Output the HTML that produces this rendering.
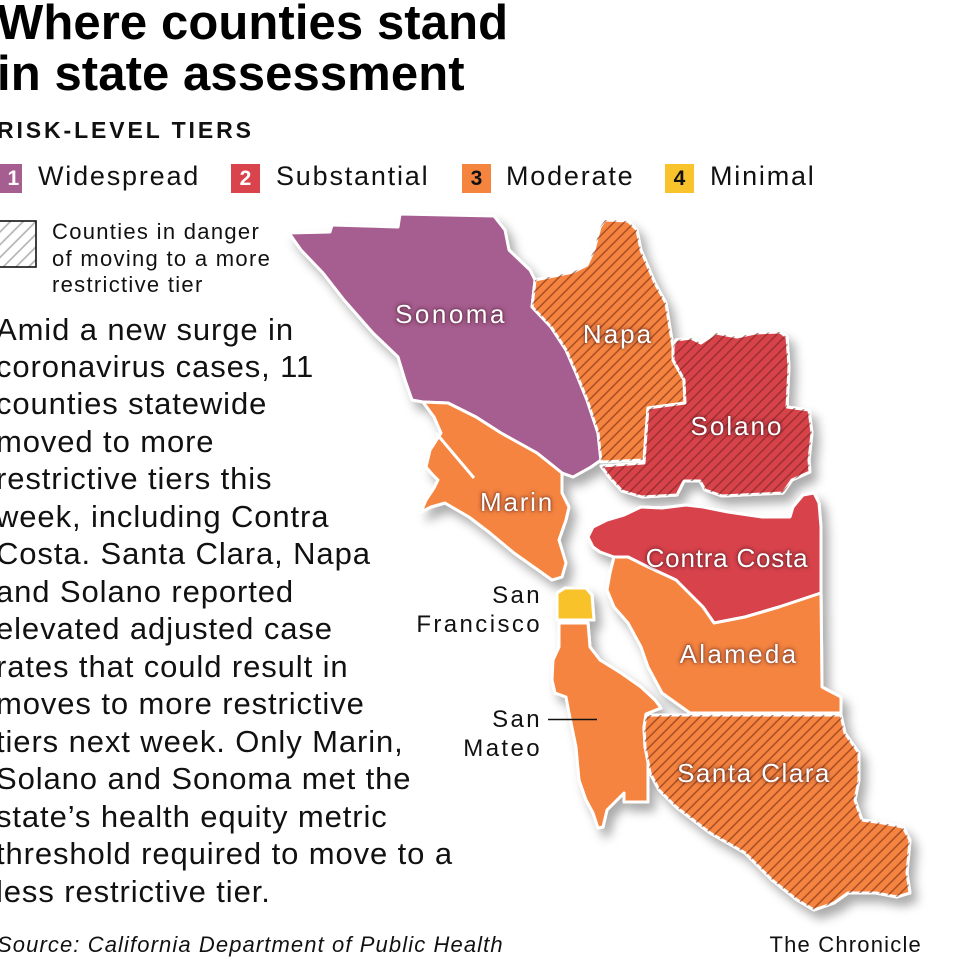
<!DOCTYPE html>
<html><head><meta charset="utf-8">
<style>
html,body{margin:0;padding:0;background:#fff;}
body{width:960px;height:960px;position:relative;overflow:hidden;font-family:"Liberation Sans",Arial,sans-serif;color:#111;}
.a{position:absolute;white-space:nowrap;line-height:1;}
.t{font-weight:bold;font-size:49px;letter-spacing:0.1px;color:#000;}
.sq{position:absolute;width:29px;height:29px;top:164px;font-weight:bold;font-size:21px;line-height:29px;text-align:center;}
.lg{font-size:27px;letter-spacing:1.8px;top:163px;}
.ml{font-size:26px;color:#fff;text-shadow:0 0 5px rgba(60,20,30,0.75),0 0 2px rgba(60,20,30,0.5);transform:translateX(-50%);}
.bl{font-size:24px;letter-spacing:2.4px;text-align:right;}
</style></head><body>

<div class="a t" style="left:-3px;top:-1.5px;">Where counties stand</div>
<div class="a t" style="left:-3px;top:49.5px;">in state assessment</div>
<div class="a" style="left:-3px;top:118.5px;font-weight:bold;font-size:23px;letter-spacing:2.9px;">RISK-LEVEL TIERS</div>

<div class="sq" style="left:-7px;background:#a65d8f;color:#fff;">&nbsp;&nbsp;1</div>
<div class="a lg" style="left:38px;">Widespread</div>
<div class="sq" style="left:231px;background:#d8434c;color:#fff;">2</div>
<div class="a lg" style="left:276px;">Substantial</div>
<div class="sq" style="left:462px;background:#f5843f;color:#111;">3</div>
<div class="a lg" style="left:506px;">Moderate</div>
<div class="sq" style="left:665px;background:#f8c32b;color:#111;">4</div>
<div class="a lg" style="left:710px;">Minimal</div>

<svg style="position:absolute;left:0;top:0" width="960" height="960" viewBox="0 0 960 960">
<defs>
<pattern id="lh" patternUnits="userSpaceOnUse" width="9" height="9" patternTransform="rotate(45)">
<line x1="2" y1="0" x2="2" y2="9" stroke="#b0b0b0" stroke-width="1.6"/>
</pattern>
<pattern id="hh" patternUnits="userSpaceOnUse" width="7.2" height="10" patternTransform="rotate(45)">
<line x1="1" y1="0" x2="1" y2="10" stroke="rgba(100,30,15,0.58)" stroke-width="1.4"/>
</pattern>
<filter id="sh" x="-10%" y="-10%" width="130%" height="130%">
<feDropShadow dx="6" dy="8" stdDeviation="5" flood-color="#000" flood-opacity="0.33"/>
</filter>
</defs>

<rect x="-12" y="221" width="48" height="46" fill="url(#lh)" stroke="#111" stroke-width="1.6"/>

<g filter="url(#sh)" stroke="#fff" stroke-width="3" stroke-linejoin="round">
<polygon fill="#a65d8f" points="289,233 330,232 332,225 398,227 400,214 494,216 505,230 509,250 530,270 535,280 532,307 551,327 566,350 576,373 587,400 598,433 601,460 591,467 573,477 562,473 537,453 501,433 476,417 448,403 423,402 412,400 405,380 398,357 373,333 344,300 323,273 301,250"/>
<polygon fill="#f5843f" points="535,280 573,272 587,265 594,250 600,227 605,220 628,221 637,230 641,250 655,283 666,303 673,347 673,360 684,380 685,403 648,408 646,433 644,460 601,462 598,433 587,400 576,373 566,350 551,327 532,307"/>
<polygon fill="url(#hh)" stroke="none" points="535,280 573,272 587,265 594,250 600,227 605,220 628,221 637,230 641,250 655,283 666,303 673,347 673,360 684,380 685,403 648,408 646,433 644,460 601,462 598,433 587,400 576,373 566,350 551,327 532,307"/>
<polygon fill="#d8434c" points="673,347 676,340 691,338 701,343 716,333 737,337 755,333 780,332 787,337 789,367 787,407 809,410 812,433 809,460 810,472 792,480 783,493 722,496 705,490 700,481 684,481 677,495 642,497 622,491 610,478 601,466 644,463 646,433 648,408 685,403 684,380 673,360"/>
<polygon fill="url(#hh)" stroke="none" points="673,347 676,340 691,338 701,343 716,333 737,337 755,333 780,332 787,337 789,367 787,407 809,410 812,433 809,460 810,472 792,480 783,493 722,496 705,490 700,481 684,481 677,495 642,497 622,491 610,478 601,466 644,463 646,433 648,408 685,403 684,380 673,360"/>
<polygon fill="#f5843f" points="423,402 448,403 476,417 501,433 537,453 562,473 562,480 562,493 569,507 566,520 559,540 566,563 562,577 552,580 538,570 514,553 490,533 469,517 445,503 431,507 421,512 426,500 434,488 438,480 432,474 426,467 430,450 441,433 434,417"/>
<polygon fill="#d8434c" points="588,537 593,527 607,520 624,515 641,507 662,508 686,505 703,507 728,512 762,517 790,517 793,507 803,495 814,493 819,503 821,527 821,593 779,607 745,617 714,623 703,607 676,580 648,567 628,557 614,557 600,552 593,547"/>
<polygon fill="#f5843f" points="614,557 628,557 648,567 676,580 703,607 714,623 745,617 779,607 821,593 822,687 841,697 841,713 690,713 676,703 662,693 655,680 648,667 641,647 628,623 614,607 607,590 610,573"/>
<polygon fill="#f8c32b" points="557,593 565,588 586,588 592,595 594,620 557,620"/>
<polygon fill="#f5843f" points="559,623 588,623 590,647 600,660 621,673 641,687 655,700 661,708 646,714 644,727 645,747 648,757 648,802 624,802 624,793 607,810 603,827 598,828 593,813 586,800 579,780 576,747 569,713 566,697 555,693 552,680 553,660 559,647"/>
<polygon fill="#f5843f" points="646,715 841,715 845,733 859,753 859,780 855,800 862,820 883,823 903,827 910,840 907,873 910,893 897,897 876,893 848,893 834,903 814,910 797,900 772,880 745,853 710,833 676,807 659,790 650,773 645,747 644,727"/>
<polygon fill="url(#hh)" stroke="none" points="646,715 841,715 845,733 859,753 859,780 855,800 862,820 883,823 903,827 910,840 907,873 910,893 897,897 876,893 848,893 834,903 814,910 797,900 772,880 745,853 710,833 676,807 659,790 650,773 645,747 644,727"/>
</g>
<line x1="436" y1="433" x2="474" y2="478" stroke="#fff" stroke-width="3"/>
<line x1="548" y1="719.5" x2="597" y2="719.5" stroke="#111" stroke-width="1.6"/>
</svg>

<div class="a" style="left:52px;top:219px;font-size:22px;letter-spacing:1.3px;line-height:26.5px;">Counties in danger<br>of moving to a more<br>restrictive tier</div>

<div class="a" style="left:-4px;top:310.5px;font-size:31px;letter-spacing:0.9px;line-height:37.47px;">Amid a new surge in<br>coronavirus cases, 11<br>counties statewide<br>moved to more<br>restrictive tiers this<br>week, including Contra<br>Costa. Santa Clara, Napa<br>and Solano reported<br>elevated adjusted case<br>rates that could result in<br>moves to more restrictive<br>tiers next week. Only Marin,<br>Solano and Sonoma met the<br>state’s health equity metric<br>threshold required to move to a<br>less restrictive tier.</div>

<div class="a ml" style="left:451px;top:301px;letter-spacing:2.5px;">Sonoma</div>
<div class="a ml" style="left:618px;top:321px;letter-spacing:2px;">Napa</div>
<div class="a ml" style="left:737px;top:413px;letter-spacing:2px;">Solano</div>
<div class="a ml" style="left:517px;top:489px;letter-spacing:1.8px;">Marin</div>
<div class="a ml" style="left:727px;top:545px;letter-spacing:0.8px;">Contra Costa</div>
<div class="a ml" style="left:739px;top:641px;letter-spacing:2.3px;">Alameda</div>
<div class="a ml" style="left:754px;top:760px;letter-spacing:1.5px;">Santa Clara</div>

<div class="a bl" style="right:418px;top:583.7px;">San</div>
<div class="a bl" style="right:418px;top:612.7px;">Francisco</div>
<div class="a bl" style="right:418px;top:707.7px;">San</div>
<div class="a bl" style="right:418px;top:736.7px;">Mateo</div>

<div class="a" style="left:-3px;top:934.4px;font-size:22px;font-style:italic;letter-spacing:1.1px;">Source: California Department of Public Health</div>
<div class="a" style="right:38px;top:934.4px;font-size:22px;letter-spacing:1.2px;">The Chronicle</div>

</body></html>
